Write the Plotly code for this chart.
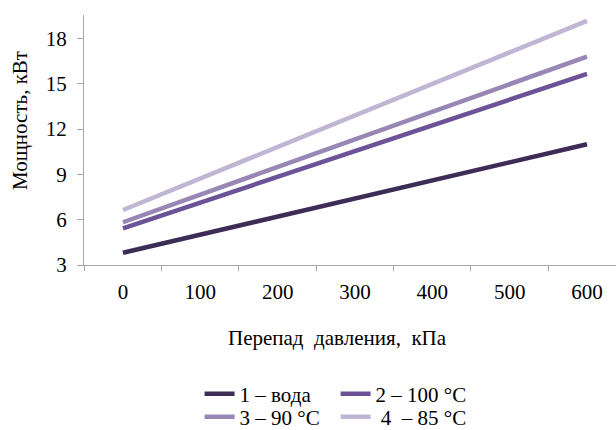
import plotly.graph_objects as go

# Pressure drop categories, kPa
pressure_kpa = ["0", "100", "200", "300", "400", "500", "600"]

# Power, kW, for each heat-carrier case
power_water = [3.81, 5.01, 6.20, 7.40, 8.60, 9.79, 10.99]
power_100c = [5.43, 7.13, 8.84, 10.54, 12.24, 13.95, 15.65]
power_90c = [5.83, 7.66, 9.49, 11.32, 13.14, 14.97, 16.80]
power_85c = [6.64, 8.73, 10.81, 12.90, 14.99, 17.07, 19.16]

series_names = ["1 – вода", "2 – 100 °C", "3 – 90 °C", " 4  – 85 °C"]
series_values = [power_water, power_100c, power_90c, power_85c]
series_colors = ["#3d2c56", "#6c5296", "#9886b5", "#c0b5d3"]
# two legend rows: first two series on top, the other two below
series_legends = ["legend", "legend", "legend2", "legend2"]

y_ticks = [3, 6, 9, 12, 15, 18]

FONT = "Liberation Serif"
FS = 21
AXIS_GREY = "#a6a6a6"

fig = go.Figure()
for name, vals, color, lg in zip(series_names, series_values, series_colors, series_legends):
    fig.add_trace(go.Scatter(
        x=pressure_kpa, y=vals, name=name, mode="lines",
        line=dict(color=color, width=4.5), legend=lg,
    ))

legend_common = dict(
    orientation="h", xref="container", yref="container",
    x=0.324, xanchor="left", yanchor="middle",
    entrywidth=91, entrywidthmode="pixels",
    font=dict(family=FONT, size=FS, color="#000000"),
    bgcolor="rgba(0,0,0,0)",
)

fig.update_layout(
    width=616, height=430,
    margin=dict(l=84, r=0, t=15, b=165),
    paper_bgcolor="white", plot_bgcolor="white",
    font=dict(family=FONT, size=FS, color="#000000"),
    showlegend=True,
    legend=dict(legend_common, y=(430 - 394) / 430),
    legend2=dict(legend_common, y=(430 - 417) / 430),
    xaxis=dict(
        type="category", categoryorder="array", categoryarray=pressure_kpa,
        range=[-0.504, 6.375], tickson="boundaries",
        ticks="outside", ticklen=5, tickcolor=AXIS_GREY,
        showline=True, linecolor=AXIS_GREY, linewidth=1.3,
        showgrid=False, zeroline=False,
        tickfont=dict(family=FONT, size=FS),
        ticklabelstandoff=8,
    ),
    yaxis=dict(
        range=[3, 19.55], tickvals=y_ticks,
        ticks="outside", ticklen=6, tickcolor=AXIS_GREY,
        showline=True, linecolor=AXIS_GREY, linewidth=1.3,
        showgrid=False, zeroline=False,
        tickfont=dict(family=FONT, size=FS),
        ticklabelstandoff=6,
    ),
    annotations=[
        dict(text="Перепад  давления,  кПа", xref="paper", yref="paper",
             x=(337 - 84) / 532, y=-(338 - 265) / 250,
             xanchor="center", yanchor="middle", showarrow=False,
             font=dict(family=FONT, size=FS)),
        dict(text="Мощность, кВт", xref="paper", yref="paper",
             x=-(84 - 20) / 532, y=(265 - 121) / 250, textangle=-90,
             xanchor="center", yanchor="middle", showarrow=False,
             font=dict(family=FONT, size=FS)),
    ],
)

fig.write_html("out.html")
